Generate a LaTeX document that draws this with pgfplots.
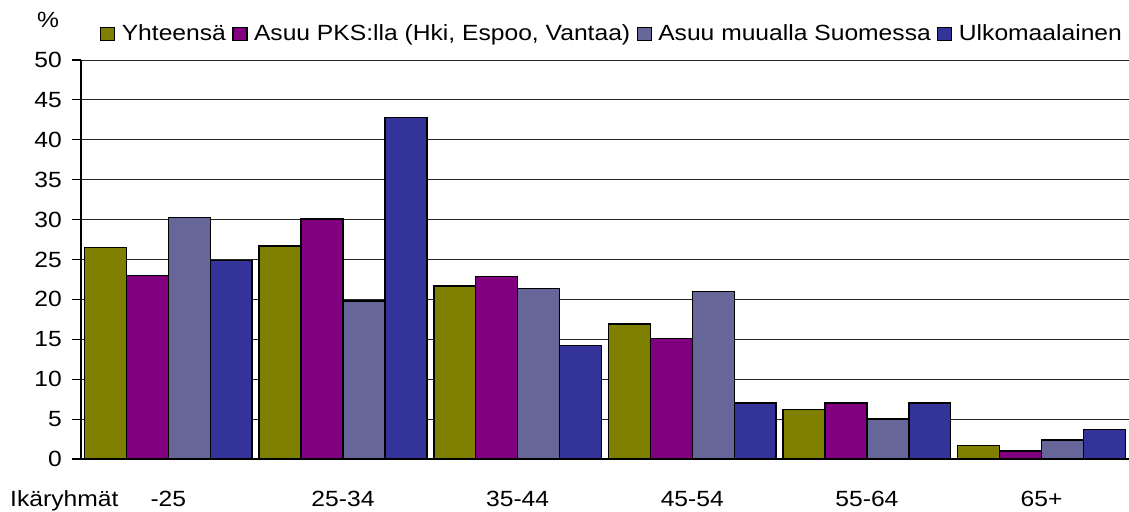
\documentclass[border=0pt]{standalone}
\usepackage{fontspec}
\setmainfont{Liberation Sans}[FakeStretch=1.12]
\usepackage{pgfplots}
\pgfplotsset{compat=1.18}
\definecolor{cA}{HTML}{808000}
\definecolor{cB}{HTML}{800080}
\definecolor{cC}{HTML}{666699}
\definecolor{cD}{HTML}{333399}
\newcommand{\chartfont}{\fontsize{22bp}{25bp}\selectfont}
\begin{document}
\chartfont
\begin{tikzpicture}[x=1bp,y=1bp]
\begin{axis}[
  at={(81bp,53bp)}, anchor=origin,
  scale only axis, width=1048bp, height=399bp,
  xmin=0, xmax=6, ymin=0, ymax=50,
  axis x line*=bottom, axis y line*=left,
  axis line style={black, line width=1.3bp, -},
  ytick={0,5,...,50},
  ymajorgrids, major grid style={black!85, line width=1bp},
  tick style={black, line width=1.1bp},
  major tick length=9bp,
  ytick pos=left, xtick pos=bottom,
  tick align=outside,
  xtick={0.5,1.5,...,5.5},
  xticklabels={-25,25-34,35-44,45-54,55-64,65+},
  x tick style={draw=none},
  minor xtick={0,1,...,6},
  minor tick length=9bp,
  minor x tick style={black, line width=1.1bp},
  xticklabel style={anchor=base, yshift=-38.7bp},
  yticklabel style={anchor=east, inner xsep=0pt, xshift=-10bp},
  ticklabel style={font=\chartfont},
  /pgf/number format/assume math mode=true,
  ybar, bar width=0.24,
  every axis plot/.append style={draw=black, line width=1.4bp},
  legend columns=4,
  legend style={draw=none, fill=none, at={(0.0,1.0)}, anchor=south west,
    xshift=19bp, yshift=16bp,
    font=\chartfont, column sep=0bp, inner sep=0pt,
    nodes={inner xsep=6.5bp, inner ysep=0pt}},
  legend image code/.code={\draw[#1, line width=1.1bp] (0bp,-6.5bp) rectangle (14bp,6.5bp);},
  clip=false,
]
\addplot[fill=cA, bar shift=-0.36] coordinates {(0.5,26.5) (1.5,26.7) (2.5,21.7) (3.5,16.9) (4.5,6.2) (5.5,1.7)};
\addplot[fill=cB, bar shift=-0.12] coordinates {(0.5,23.0) (1.5,30.1) (2.5,22.9) (3.5,15.1) (4.5,7.0) (5.5,1.0)};
\addplot[fill=cC, bar shift=0.12] coordinates {(0.5,30.3) (1.5,19.8) (2.5,21.4) (3.5,21.0) (4.5,5.0) (5.5,2.4)};
\addplot[fill=cD, bar shift=0.36] coordinates {(0.5,24.9) (1.5,42.8) (2.5,14.2) (3.5,7.0) (4.5,7.0) (5.5,3.7)};
\legend{Yhteensä, Asuu PKS:lla (Hki{,} Espoo{,} Vantaa), Asuu muualla Suomessa, Ulkomaalainen}
\end{axis}
\node[anchor=base west, inner sep=0pt] at (37bp,484bp) {\%};
\node[anchor=base west, inner sep=0pt] at (10bp,5.3bp) {Ikäryhmät};
\pgfresetboundingbox
\path[use as bounding box] (0,0) rectangle (1129bp,512bp);
\end{tikzpicture}
\end{document}
